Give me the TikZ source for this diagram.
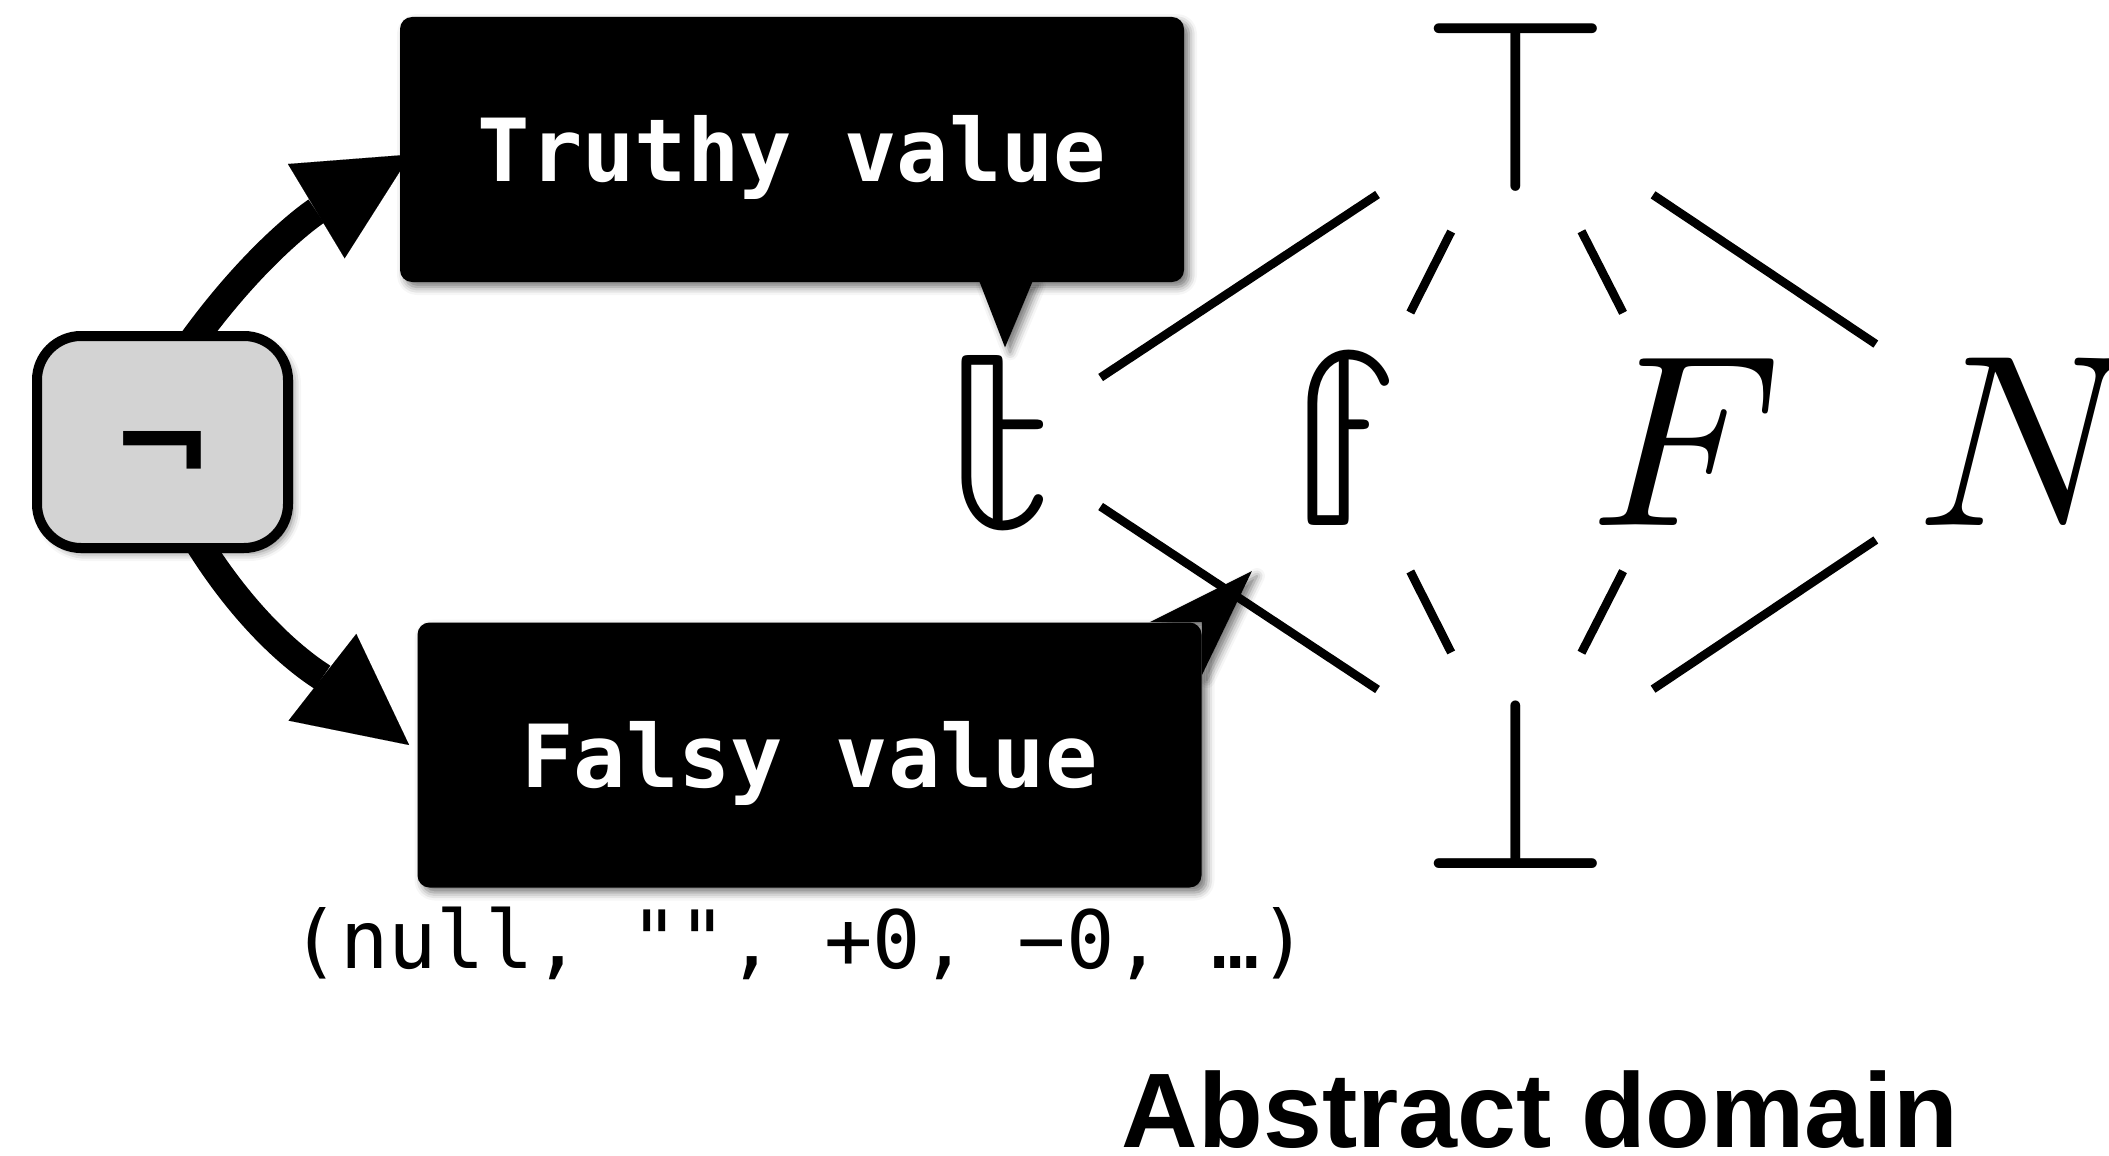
\documentclass[tikz,border=0pt]{standalone}
\usepackage{fontspec}
\usetikzlibrary{calc,arrows.meta,shadows.blur,backgrounds}
\newfontfamily\monofam{DejaVu Sans Mono}
\newfontfamily\symfam{DejaVu Sans}
\newfontfamily\mathglyphs{latinmodern-math.otf}
\newfontfamily\headfam{Liberation Sans}
\definecolor{neggray}{RGB}{211,211,211}
\begin{document}
\begin{tikzpicture}[x=0.5pt,y=0.5pt,
  shad/.style={blur shadow={shadow xshift=2.5pt,shadow yshift=-2.5pt,shadow blur radius=4pt,shadow opacity=55}},
  callbox/.style={shape=rectangle, fill=black, rounded corners=6pt, minimum width=392pt, minimum height=132.5pt, inner sep=0pt, text=white, text height=32pt, text depth=0pt, font=\monofam\bfseries\fontsize{43.5pt}{43.5pt}\selectfont, shad},
  tailfill/.style={fill=black, shad},
  negbox/.style={shape=rectangle, draw=black, line width=5pt, fill=neggray, rounded corners=22pt, minimum width=125.5pt, minimum height=106pt, inner sep=0pt, shad},
  negsym/.style={inner sep=0pt, font=\symfam\bfseries\fontsize{62pt}{62pt}\selectfont},
  glyph/.style={inner sep=0pt, font=\mathglyphs\fontsize{122.5pt}{122.5pt}\selectfont},
  latt/.style={line width=4.3pt},
  bigarrow/.style={line width=14pt, draw=black, draw opacity=1, fill opacity=1, -{Triangle[length=55pt,width=55pt,line width=0.01pt,fill=black]}},
  notesty/.style={inner sep=0pt, font=\monofam\fontsize{40.2pt}{40.2pt}\selectfont},
  headsty/.style={inner sep=0pt, font=\headfam\bfseries\fontsize{53pt}{53pt}\selectfont}
]
\useasboundingbox (0,0) rectangle (2109,-1156);

% boxes
\node[negbox] (neg) at (162.5,-442) {};
\node[negsym] (negtext) at ($(neg.center)+(0,-17)$) {¬};
\node[callbox] (truthy) at (792,-149.5) {Truthy value};
\node[callbox] (falsy) at (809.5,-755) {Falsy value};
\fill[tailfill] ($(truthy.south)+(187,2)$) -- ($(truthy.south)+(241,2)$) -- ($(truthy.south)+(213,-65)$) -- cycle;
\fill[tailfill] ($(falsy.north east)+(-52,0)$) -- ($(falsy.north east)+(50,51)$) -- ($(falsy.north east)+(0,-53)$) -- (falsy.north east) -- cycle;
\node[notesty, anchor=base] (note) at (800,-968) {(null, "", +0, −0, …)};

% lattice glyphs
\node[glyph,anchor=base] (top) at (1516,-186) {⊤};
\node[glyph,anchor=base] (bot) at (1516,-868) {⊥};
\node[glyph,anchor=base] (t) at (1000,-525) {𝕥};
\node[glyph,anchor=base] (f) at (1342,-525) {𝕗};
\node[glyph,anchor=base] (F) at (1669,-525) {𝐹};
\node[glyph,anchor=base west] (N) at (1916,-525) {𝑁};

\coordinate (pt) at (1003,-442);
\coordinate (pf) at (1345,-442);
\coordinate (pF) at (1689,-442);
\coordinate (pN) at (2022,-442);
\coordinate (ptop) at (1516,-103);
\coordinate (pbot) at (1516,-781);

\draw[latt, shorten <=58.5pt, shorten >=83pt] (pt) -- (ptop);
\draw[latt, shorten <=58.5pt, shorten >=83pt] (pt) -- (pbot);
\draw[latt, shorten <=82.5pt, shorten >=88pt] (ptop) -- (pN);
\draw[latt, shorten <=82.5pt, shorten >=88pt] (pbot) -- (pN);
\draw[latt, shorten <=72.5pt, shorten >=72pt] (pf) -- (ptop);
\draw[latt, shorten <=72.5pt, shorten >=72pt] (pf) -- (pbot);
\draw[latt, shorten <=72.5pt, shorten >=72pt] (pF) -- (ptop);
\draw[latt, shorten <=72.5pt, shorten >=72pt] (pF) -- (pbot);

\node[headsty, anchor=base] (title) at (1540,-1147) {Abstract domain};

% arrows behind the boxes
\begin{scope}[on background layer]
\draw[bigarrow] ($(neg.north)+(30,-10)$) to[out=54,in=211] ($(truthy.west)+(11,-5)$);
\draw[bigarrow] ($(neg.south)+(36,10)$) to[out=-58,in=142] ($(falsy.west)+(-8,10)$);
\end{scope}
\end{tikzpicture}
\end{document}
